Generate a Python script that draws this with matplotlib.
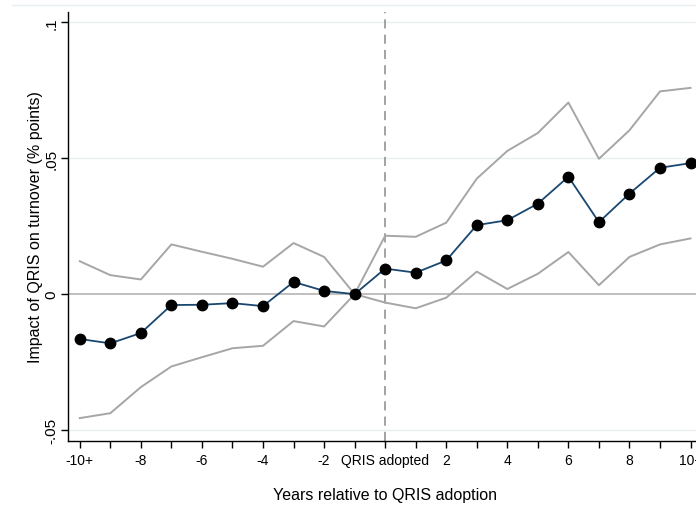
import matplotlib
matplotlib.use('Agg')
import matplotlib.pyplot as plt
from matplotlib.lines import Line2D

plt.rcParams['font.family'] = ['Liberation Sans', 'DejaVu Sans']

years = list(range(-10, 11))
estimate = [-0.0165, -0.0181, -0.0143, -0.0040, -0.0039, -0.0033, -0.0044, 0.0045, 0.0012, 0.0,
            0.0094, 0.0079, 0.0124, 0.0254, 0.0272, 0.0333, 0.0432, 0.0265, 0.0370, 0.0465, 0.0482]
upper = [0.0121, 0.0070, 0.0054, 0.0183, 0.0156, 0.0130, 0.0101, 0.0188, 0.0137, 0.0,
         0.0215, 0.0211, 0.0263, 0.0425, 0.0527, 0.0593, 0.0705, 0.0498, 0.0603, 0.0746, 0.0759]
lower = [-0.0456, -0.0438, -0.0342, -0.0266, -0.0232, -0.0199, -0.0190, -0.0099, -0.0119, 0.0,
         -0.0031, -0.0052, -0.0013, 0.0083, 0.0019, 0.0075, 0.0155, 0.0033, 0.0137, 0.0183, 0.0205]

xtick_pos = [-10, -8, -6, -4, -2, 0, 2, 4, 6, 8, 10]
xtick_labels = ['-10+', '-8', '-6', '-4', '-2', 'QRIS adopted', '2', '4', '6', '8', '10+']
ytick_pos = [-0.05, 0, 0.05, 0.1]
ytick_labels = ['-.05', '0', '.05', '.1']

fig = plt.figure(figsize=(6.96, 5.10), dpi=100)
ax = fig.add_axes([0.0984, 0.134, 0.91, 0.841])

# faint outer border line at top (Stata plot region)
fig.add_artist(Line2D([0.017, 1.0], [0.988, 0.988], color='#e6eef1', lw=1.0))

for y in [-0.05, 0.05, 0.1]:
    ax.axhline(y, color='#e8f0f2', lw=1.0, zorder=0)
ax.axhline(0, color='#b4b4b4', lw=1.2, zorder=1)
ax.axvline(0, color='#8a8a8a', lw=1.1, ls=(0, (6, 4)), zorder=1)

ax.plot(years, upper, color='#a6a6a6', lw=1.4, zorder=2)
ax.plot(years, lower, color='#a6a6a6', lw=1.4, zorder=2)
ax.plot(years, estimate, color='#1a476f', lw=1.3, marker='o', markersize=7.5,
        markerfacecolor='black', markeredgecolor='black', zorder=3)

ax.set_xlim(-10.37, 10.37)
ax.set_ylim(-0.0539, 0.1039)

ax.set_xticks(xtick_pos)
ax.set_xticklabels(xtick_labels, fontsize=10)
ax.set_xticks([y for y in years if y not in xtick_pos], minor=True)
ax.tick_params(axis='x', which='both', length=5, width=1, direction='out', pad=4)
ax.set_yticks(ytick_pos)
ax.set_yticklabels(ytick_labels, fontsize=11, rotation=90, va='center')
ax.tick_params(axis='y', length=5, width=1, direction='out', pad=2)

for s in ['top', 'right']:
    ax.spines[s].set_visible(False)
ax.spines['left'].set_linewidth(1.0)
ax.spines['bottom'].set_linewidth(1.0)

ax.set_xlabel('Years relative to QRIS adoption', fontsize=11.5, labelpad=14)
ax.set_ylabel('Impact of QRIS on turnover (% points)', fontsize=11.5, labelpad=1)

fig.savefig('out.png', dpi=100)
